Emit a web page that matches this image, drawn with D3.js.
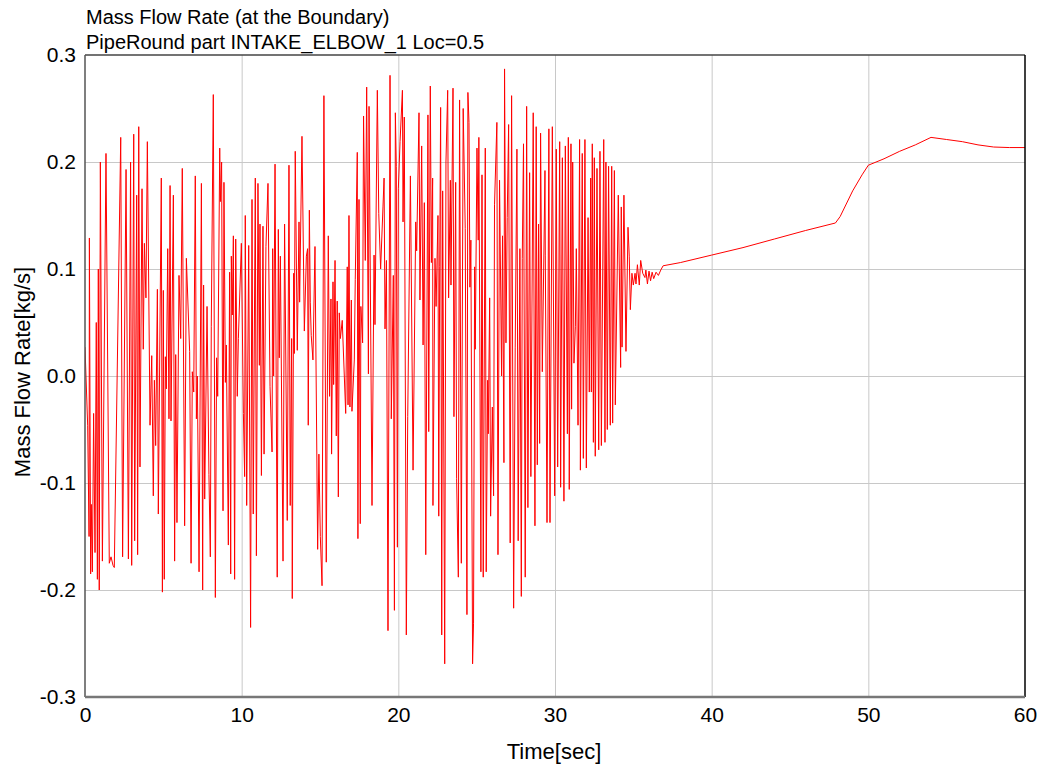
<!DOCTYPE html>
<html>
<head>
<meta charset="utf-8">
<script src="https://cdn.jsdelivr.net/npm/d3@7"></script>
<style>
  body { margin: 0; background: #fff; }
  text { font-family: Arial, "Liberation Sans", sans-serif; fill: #000; }
  .grid line { stroke: #c8c8c8; stroke-width: 1; }
  .grid path { display: none; }
  .axis path, .axis line { display: none; }
  .axis text { font-size: 21px; }
</style>
</head>
<body>
<svg id="chart"></svg>
<script>
// chart titles
let titleLines = ["Mass Flow Rate (at the Boundary)", "PipeRound part INTAKE_ELBOW_1 Loc=0.5"]
let xLabel = "Time[sec]"
let yLabel = "Mass Flow Rate[kg/s]"

// tick values
let xTicks = [0, 10, 20, 30, 40, 50, 60]
let yTicks = [-0.3, -0.2, -0.1, 0.0, 0.1, 0.2, 0.3]

// time [sec]
let time = [
  0.00, 0.17, 0.26, 0.28, 0.36, 0.40, 0.47, 0.55, 0.64, 0.72, 0.79, 0.85, 0.91, 0.98, 1.11, 1.34, 1.55, 1.66, 1.79, 1.87,
  2.28, 2.40, 2.62, 2.77, 2.91, 2.98, 3.11, 3.17, 3.30, 3.36, 3.43, 3.51, 3.64, 3.72, 3.79, 3.89, 3.98, 4.15, 4.26, 4.36,
  4.43, 4.51, 4.62, 4.68, 4.87, 4.94, 5.00, 5.06, 5.13, 5.19, 5.28, 5.36, 5.43, 5.49, 5.64, 5.72, 5.79, 5.87,
  6.00, 6.11, 6.21, 6.36, 6.47, 6.68, 6.77, 6.85, 6.94, 7.04, 7.11, 7.17, 7.28, 7.43, 7.51, 7.57, 7.64, 7.79, 7.91, 8.00,
  8.06, 8.19, 8.32, 8.40, 8.47, 8.60, 8.64, 8.72, 8.81, 8.87, 8.96, 9.02, 9.15, 9.23, 9.30, 9.34, 9.40, 9.47, 9.55, 9.62,
  9.72, 9.79, 9.98, 10.11, 10.19, 10.23, 10.32, 10.45, 10.57, 10.66, 10.74, 10.87, 10.94, 11.04, 11.13, 11.17, 11.26, 11.36, 11.43, 11.55,
  11.68, 11.81, 11.94,
  11.98, 12.04, 12.13, 12.27, 12.34, 12.40, 12.47, 12.64, 12.74, 12.91, 13.02, 13.10, 13.19, 13.23, 13.32, 13.36, 13.42, 13.55, 13.66, 13.70,
  13.85, 14.00, 14.13, 14.21, 14.25, 14.32, 14.38, 14.44, 14.55, 14.68, 14.85, 14.93, 15.02, 15.13, 15.25, 15.40, 15.53, 15.61, 15.70, 15.74,
  15.83, 15.87, 15.96, 16.04, 16.10, 16.17, 16.23, 16.30, 16.42, 16.64, 16.74, 16.79, 16.85, 16.91, 17.00, 17.04, 17.19, 17.25, 17.38, 17.42,
  17.49, 17.57, 17.61, 17.72, 17.78, 17.89,
  17.98, 18.09, 18.13, 18.32, 18.45, 18.51, 18.66, 18.75, 18.87, 19.02, 19.09, 19.15, 19.24, 19.34, 19.47, 19.55, 19.68, 19.75, 19.81, 19.87,
  19.94, 20.00, 20.11, 20.26, 20.30, 20.38, 20.51, 20.60, 20.77, 20.94, 21.11, 21.17, 21.32, 21.38, 21.49, 21.58, 21.66, 21.75, 21.89, 21.94,
  22.04, 22.11, 22.19, 22.21, 22.34, 22.41, 22.53, 22.58, 22.64, 22.70, 22.77, 22.83, 22.96, 23.04, 23.15, 23.21, 23.32, 23.36, 23.49, 23.55,
  23.66, 23.72, 23.83,
  23.91, 24.02, 24.14, 24.27, 24.38, 24.44, 24.51, 24.57, 24.63, 24.74, 24.80, 24.87, 24.91, 25.02, 25.10, 25.14, 25.27, 25.34, 25.42, 25.55,
  25.61, 25.70, 25.74, 25.83, 25.89, 26.00, 26.08, 26.14, 26.29, 26.36, 26.46, 26.59, 26.65, 26.74, 26.78, 26.87, 26.95, 27.04, 27.14, 27.23,
  27.36, 27.46, 27.57, 27.65, 27.76, 27.85, 27.91, 27.99, 28.10, 28.19, 28.27, 28.38, 28.46, 28.61, 28.72, 28.80, 28.87, 28.95, 29.02, 29.08,
  29.19, 29.36, 29.38, 29.49, 29.61, 29.68,
  29.83, 29.98, 30.08, 30.17, 30.30, 30.36, 30.47, 30.57, 30.66, 30.79, 30.85, 30.91, 31.02, 31.06, 31.13, 31.21, 31.30, 31.36, 31.47, 31.57,
  31.62, 31.74, 31.81, 31.91, 32.00, 32.11, 32.19, 32.28, 32.32, 32.38, 32.45, 32.51, 32.57, 32.68, 32.79, 32.87, 32.96, 33.11, 33.19, 33.25,
  33.34, 33.42, 33.53, 33.62, 33.68, 33.79, 33.85, 34.04, 34.19, 34.23, 34.28, 34.40, 34.53, 34.66, 34.74, 34.81, 34.91, 35.00, 35.11, 35.17,
  35.26, 35.38, 35.47, 35.60, 35.74,
  35.80, 35.90, 36.00, 36.10, 36.20, 36.30, 36.45, 36.60, 36.75, 36.90, 38.00, 40.00, 42.00, 44.00, 46.00, 47.90, 48.20, 49.00, 49.60, 50.00,
  51.00, 52.00, 53.00, 54.00, 55.00, 56.00, 57.00, 58.00, 59.00, 60.00
]

// mass flow rate [kg/s], same order as time
let massFlow = [
  0.027, -0.046, -0.150, 0.129, -0.185, -0.120, -0.183, -0.035, -0.165, 0.050, -0.190, 0.100, -0.200, 0.200, -0.173, 0.208, -0.175, -0.169, -0.177, -0.179,
  0.223, -0.169, 0.193, -0.171, 0.200, -0.177, 0.226, -0.154, 0.169, -0.167, 0.233, -0.085, 0.175, 0.025, 0.124, 0.073, 0.219, -0.046, 0.019, -0.112,
  -0.004, -0.065, 0.081, -0.129, 0.185, -0.202, 0.080, -0.190, 0.018, -0.012, 0.119, -0.040, 0.178, -0.042, 0.169, -0.173, 0.020, -0.137,
  0.094, 0.035, 0.194, -0.140, 0.110, 0.023, -0.175, 0.004, -0.015, 0.187, -0.040, 0.000, -0.183, 0.180, -0.200, 0.085, -0.115, 0.065, -0.092, -0.169,
  0.046, 0.263, -0.207, 0.017, -0.019, 0.213, 0.163, 0.200, -0.126, 0.181, -0.006, 0.029, -0.158, 0.097, -0.185, 0.112, 0.057, 0.131, -0.190, 0.128,
  -0.019, 0.035, 0.124, -0.035, -0.094, 0.150, -0.121, 0.122, -0.235, 0.165, -0.129, 0.185, -0.168, 0.180, 0.010, 0.142, -0.093, 0.140, -0.073, 0.121,
  0.180, -0.010, -0.071,
  0.119, 0.000, 0.198, -0.188, 0.137, 0.017, 0.112, -0.173, 0.142, -0.135, 0.197, -0.121, 0.035, -0.208, 0.096, 0.021, 0.210, 0.024, 0.144, 0.069,
  0.224, 0.042, 0.112, 0.119, -0.046, 0.155, 0.069, 0.038, 0.015, 0.121, -0.162, -0.073, -0.150, -0.196, 0.262, -0.174, 0.131, -0.019, 0.072, -0.073,
  0.088, -0.008, 0.108, -0.056, 0.070, -0.113, 0.059, 0.035, 0.052, -0.035, 0.102, -0.027, 0.150, -0.029, 0.071, -0.033, 0.015, 0.090, 0.209, -0.152,
  0.165, -0.138, 0.065, 0.031, 0.243, 0.108,
  0.270, 0.002, 0.252, -0.121, 0.113, 0.048, 0.267, 0.152, 0.100, 0.158, 0.185, 0.044, 0.108, -0.238, 0.281, -0.040, 0.094, -0.219, 0.246, 0.196,
  -0.160, 0.175, 0.219, 0.267, 0.144, 0.242, -0.242, -0.038, 0.187, -0.088, 0.144, 0.117, 0.246, 0.071, 0.215, 0.029, 0.162, -0.167, 0.244, -0.052,
  0.271, 0.106, 0.185, -0.121, 0.110, 0.065, 0.150, -0.131, 0.102, 0.251, -0.242, 0.173, -0.269, 0.200, 0.267, 0.073, 0.183, 0.085, 0.269, -0.038,
  0.181, -0.096, -0.188,
  0.258, -0.175, 0.250, 0.138, -0.223, 0.265, 0.237, 0.083, 0.127, -0.269, -0.231, 0.102, 0.025, 0.213, 0.127, 0.223, -0.183, 0.188, -0.188, 0.213,
  -0.183, -0.004, -0.054, 0.073, -0.131, -0.029, -0.112, 0.160, 0.237, -0.167, 0.183, 0.000, 0.131, -0.081, 0.287, 0.031, 0.148, 0.235, -0.156, 0.262,
  -0.217, 0.027, 0.212, -0.154, 0.119, -0.206, 0.110, 0.217, -0.188, 0.252, -0.123, 0.190, -0.094, 0.246, -0.140, 0.233, -0.083, 0.142, -0.063, 0.227,
  0.004, 0.192, 0.113, -0.137, 0.231, -0.137,
  0.233, -0.112, 0.212, -0.085, 0.219, -0.104, 0.204, -0.117, 0.215, -0.054, 0.223, -0.106, 0.217, -0.031, 0.200, 0.012, 0.046, 0.119, -0.046, 0.221,
  -0.088, 0.208, -0.077, 0.221, -0.086, 0.148, -0.015, 0.185, -0.015, 0.217, -0.062, 0.204, -0.075, 0.194, -0.069, 0.210, -0.065, 0.221, -0.062, 0.200,
  -0.050, 0.196, -0.046, 0.196, -0.044, 0.192, -0.027, 0.169, 0.008, 0.158, 0.027, 0.169, 0.023, 0.139, 0.112, 0.062, 0.096, 0.085, 0.096, 0.086,
  0.104, 0.085, 0.108, 0.096, 0.092,
  0.099, 0.086, 0.098, 0.089, 0.097, 0.091, 0.097, 0.094, 0.099, 0.103, 0.106, 0.113, 0.120, 0.128, 0.136, 0.143, 0.149, 0.173, 0.188, 0.197,
  0.203, 0.210, 0.216, 0.223, 0.221, 0.219, 0.216, 0.214, 0.2135, 0.2135
]

let width = 1042, height = 768
let margin = { top: 55, right: 17, bottom: 71, left: 85 }
let plotW = width - margin.left - margin.right
let plotH = height - margin.top - margin.bottom

let svg = d3.select("#chart")
    .attr("width", width)
    .attr("height", height)

let xScale = d3.scaleLinear()
    .domain([0, 60])
    .range([margin.left, margin.left + plotW])

let yScale = d3.scaleLinear()
    .domain([-0.3, 0.3])
    .range([margin.top + plotH, margin.top])

// grid lines (skip the ones that sit on the frame)
svg.append("g")
    .attr("class", "grid")
    .attr("transform", "translate(0," + (margin.top + plotH) + ")")
    .call(d3.axisBottom(xScale).tickValues(xTicks.slice(1, -1)).tickSize(-plotH).tickFormat(""))

svg.append("g")
    .attr("class", "grid")
    .attr("transform", "translate(" + margin.left + ",0)")
    .call(d3.axisLeft(yScale).tickValues(yTicks.slice(1, -1)).tickSize(-plotW).tickFormat(""))

// the data line
let points = time.map((t, i) => [t, massFlow[i]])

svg.append("clipPath").attr("id", "plotclip")
    .append("rect")
    .attr("x", margin.left).attr("y", margin.top)
    .attr("width", plotW).attr("height", plotH)

svg.append("path")
    .datum(points)
    .attr("clip-path", "url(#plotclip)")
    .attr("fill", "none")
    .attr("stroke", "#ff0000")
    .attr("stroke-width", 1)
    .attr("d", d3.line().x(d => xScale(d[0])).y(d => yScale(d[1])))

// frame
svg.append("line")
    .attr("x1", margin.left).attr("x2", margin.left + plotW)
    .attr("y1", margin.top).attr("y2", margin.top)
    .attr("stroke", "#444").attr("stroke-width", 1.5)
svg.append("line")
    .attr("x1", margin.left + plotW).attr("x2", margin.left + plotW)
    .attr("y1", margin.top).attr("y2", margin.top + plotH)
    .attr("stroke", "#000").attr("stroke-width", 1.5)
svg.append("line")
    .attr("x1", margin.left).attr("x2", margin.left)
    .attr("y1", margin.top).attr("y2", margin.top + plotH)
    .attr("stroke", "#555").attr("stroke-width", 1.5)
svg.append("line")
    .attr("x1", margin.left).attr("x2", margin.left + plotW)
    .attr("y1", margin.top + plotH).attr("y2", margin.top + plotH)
    .attr("stroke", "#777").attr("stroke-width", 2.5)

// tick labels (plain hyphen for negatives, like the original)
let fmtY = d => d3.format(".1f")(d).replace("\u2212", "-")

svg.append("g")
    .attr("class", "axis")
    .attr("transform", "translate(0," + (margin.top + plotH) + ")")
    .call(d3.axisBottom(xScale).tickValues(xTicks).tickSize(0).tickPadding(10).tickFormat(d3.format("d")))

svg.append("g")
    .attr("class", "axis")
    .attr("transform", "translate(" + margin.left + ",0)")
    .call(d3.axisLeft(yScale).tickValues(yTicks).tickSize(0).tickPadding(9).tickFormat(fmtY))

// titles
svg.selectAll("text.title")
    .data(titleLines)
    .enter()
    .append("text")
    .attr("class", "title")
    .attr("x", 86)
    .attr("y", (d, i) => 24 + i * 25)
    .style("font-size", "20px")
    .text(d => d)

svg.append("text")
    .attr("x", 554)
    .attr("y", 759)
    .attr("text-anchor", "middle")
    .style("font-size", "22px")
    .text(xLabel)

svg.append("text")
    .attr("transform", "translate(30," + 372 + ") rotate(-90)")
    .attr("text-anchor", "middle")
    .style("font-size", "22px")
    .text(yLabel)
</script>
</body>
</html>
